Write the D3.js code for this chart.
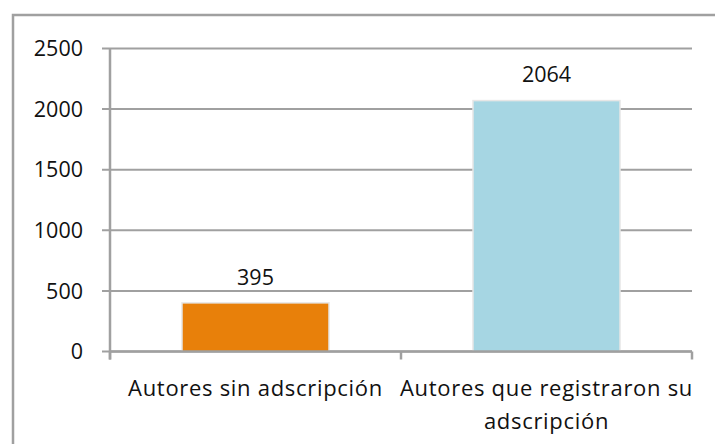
<!DOCTYPE html>
<html>
<head>
<meta charset="utf-8">
<script src="https://cdn.jsdelivr.net/npm/d3@7"></script>
<style>
  body { margin: 0; background: #fff; }
  text { font-family: "Open Sans", Lato, sans-serif; fill: #111; }
</style>
</head>
<body>
<script>
// chart data
var categories = ["Autores sin adscripción", "Autores que registraron su adscripción"];
var labelLines = [["Autores sin adscripción"], ["Autores que registraron su", "adscripción"]];
var values = [395, 2064];
var barColors = ["#e8800a", "#a6d6e3"];
var yTicks = [0, 500, 1000, 1500, 2000, 2500];

// set the dimensions and margins of the graph
var W = 715, H = 444;
var margin = {top: 48.5, right: 23, bottom: 92.5, left: 110},
    width = W - margin.left - margin.right,
    height = H - margin.top - margin.bottom;

var svg = d3.select("body").append("svg")
    .attr("width", W)
    .attr("height", H);

// outer frame
svg.append("rect")
    .attr("x", 13).attr("y", 15)
    .attr("width", W + 20).attr("height", H + 20)
    .attr("fill", "none")
    .attr("stroke", "#a0a0a0")
    .attr("stroke-width", 2.5);

var g = svg.append("g")
    .attr("transform", "translate(" + margin.left + "," + margin.top + ")");

// set the ranges
var x = d3.scaleBand().domain(categories).range([0, width]).paddingInner(0.5).paddingOuter(0.25);
var xb = d3.scaleBand().domain(categories).range([0, width]);
var y = d3.scaleLinear().domain([0, 2500]).range([height, 0]);

// gridlines with small stubs left of the axis
g.selectAll(".grid")
    .data(yTicks)
  .enter().append("line")
    .attr("x1", -8).attr("x2", width)
    .attr("y1", function(d) { return y(d); })
    .attr("y2", function(d) { return y(d); })
    .attr("stroke", "#a0a0a0")
    .attr("stroke-width", 2);

// y tick labels
g.selectAll(".ylab")
    .data(yTicks)
  .enter().append("text")
    .attr("x", -27)
    .attr("y", function(d) { return y(d); })
    .attr("dy", "0.36em")
    .attr("text-anchor", "end")
    .style("font-size", "21.5px")
    .text(function(d) { return d; });

// bar shadows
g.selectAll(".shadow")
    .data(values)
  .enter().append("rect")
    .attr("x", function(d, i) { return x(categories[i]) - 1.5; })
    .attr("y", function(d) { return y(d) - 1.5; })
    .attr("width", x.bandwidth() + 3)
    .attr("height", function(d) { return height - y(d) + 1.5; })
    .attr("fill", "#e6e6e6");

// bars
g.selectAll(".bar")
    .data(values)
  .enter().append("rect")
    .attr("x", function(d, i) { return x(categories[i]); })
    .attr("y", function(d) { return y(d); })
    .attr("width", x.bandwidth())
    .attr("height", function(d) { return height - y(d); })
    .attr("fill", function(d, i) { return barColors[i]; });

// value labels
g.selectAll(".val")
    .data(values)
  .enter().append("text")
    .attr("x", function(d, i) { return x(categories[i]) + x.bandwidth() / 2; })
    .attr("y", function(d) { return y(d) - 19; })
    .attr("text-anchor", "middle")
    .style("font-size", "21.5px")
    .text(function(d) { return d; });

// axes lines
g.append("line")
    .attr("x1", 0).attr("x2", 0)
    .attr("y1", 0).attr("y2", height + 8)
    .attr("stroke", "#a0a0a0").attr("stroke-width", 2.5);
g.append("line")
    .attr("x1", 0).attr("x2", width)
    .attr("y1", height).attr("y2", height)
    .attr("stroke", "#a0a0a0").attr("stroke-width", 2.5);

// category ticks at band boundaries
var bounds = [0].concat(categories.map(function(c) { return xb(c) + xb.bandwidth(); }));
g.selectAll(".xtick")
    .data(bounds)
  .enter().append("line")
    .attr("x1", function(d) { return d; })
    .attr("x2", function(d) { return d; })
    .attr("y1", height).attr("y2", height + 8)
    .attr("stroke", "#a0a0a0").attr("stroke-width", 2.5);

// category labels
var cl = g.selectAll(".xlab")
    .data(categories)
  .enter().append("text")
    .attr("x", function(c) { return xb(c) + xb.bandwidth() / 2; })
    .attr("y", height + 44)
    .attr("text-anchor", "middle")
    .style("font-size", "22px")
    .style("letter-spacing", "0.7px");
cl.selectAll("tspan")
    .data(function(c, i) { return labelLines[i]; })
  .enter().append("tspan")
    .attr("x", function() { return d3.select(this.parentNode).attr("x"); })
    .attr("dy", function(d, i) { return i === 0 ? 0 : 33; })
    .text(function(d) { return d; });
</script>
</body>
</html>
